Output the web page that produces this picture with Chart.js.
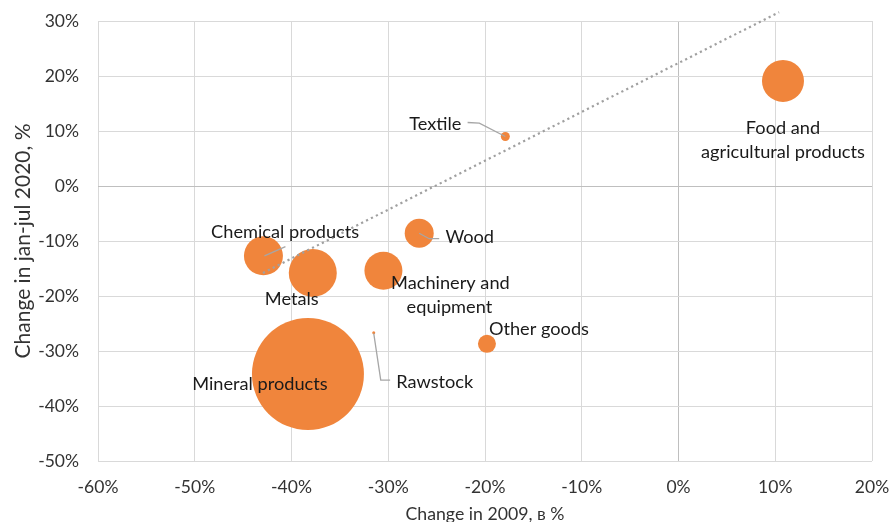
<!DOCTYPE html>
<html>
<head>
<meta charset="utf-8">
<script src="https://cdn.jsdelivr.net/npm/chart.js@4.4.0/dist/chart.umd.min.js"></script>
<style>
  body { margin: 0; background: #fff; }
</style>
</head>
<body>
<canvas id="chart" width="891" height="522"></canvas>
<script>
// product groups and their changes, in %
const categories = ['Food and agricultural products', 'Textile', 'Wood', 'Chemical products', 'Metals',
  'Machinery and equipment', 'Other goods', 'Rawstock', 'Mineral products'];
const change2009 = [10.8, -17.9, -26.8, -42.9, -37.8, -30.5, -19.8, -31.5, -38.3];
const change2020 = [19.1, 9.0, -8.6, -12.7, -15.8, -15.4, -28.7, -26.7, -34.2];
const bubbleSize = [21, 4.5, 14.5, 19.5, 24, 19, 9, 1.5, 56]; // bubble radius, px

// dotted trend line ends
const trendX = [-42.95, 10.4];
const trendY = [-15.8, 31.6];

const xTicks = [-60, -50, -40, -30, -20, -10, 0, 10, 20];
const yTicks = [-50, -40, -30, -20, -10, 0, 10, 20, 30];

// where each label sits relative to its bubble (lines of text, offsets, leader line)
const labelLayout = [
  { lines: ['Food and', 'agricultural products'], dx: 0, dy: 47, gap: 24 },
  { lines: ['Textile'], dx: -70, dy: -12.7, leader: [[0, 0], [-26, -13.4], [-37.7, -14]] },
  { lines: ['Wood'], dx: 50.5, dy: 4, leader: [[0, 0], [10, 5.4], [20, 5.4]] },
  { lines: ['Chemical products'], dx: 21.7, dy: -23.7, leader: [[1, 0], [22, -9.3]] },
  { lines: ['Metals'], dx: -21, dy: 26.3 },
  { lines: ['Machinery and', 'equipment'], dx: 67, dy: 12.3, gap: 23.7, dxs: [0, -1] },
  { lines: ['Other goods'], dx: 52, dy: -15 },
  { lines: ['Rawstock'], dx: 61, dy: 49, leader: [[0, 0.6], [7, 47.3], [16.4, 47.3]] },
  { lines: ['Mineral products'], dx: -48, dy: 10 }
];

const bubbles = categories.map((c, i) => ({ x: change2009[i], y: change2020[i], r: bubbleSize[i] }));
const trend = trendX.map((x, i) => ({ x: x, y: trendY[i] }));

const labelFont = '18.2px Lato';
const tickFont = { family: 'Lato', size: 17.5 };

const bubbleLabels = {
  id: 'bubbleLabels',
  afterDatasetsDraw(chart) {
    const ctx = chart.ctx;
    const meta = chart.getDatasetMeta(1);
    ctx.save();
    meta.data.forEach((pt, i) => {
      const lay = labelLayout[i];
      if (lay.leader) {
        ctx.strokeStyle = '#a6a6a6';
        ctx.lineWidth = 1.3;
        ctx.beginPath();
        lay.leader.forEach((p, k) => {
          const px = pt.x + p[0], py = pt.y + p[1];
          if (k === 0) ctx.moveTo(px, py); else ctx.lineTo(px, py);
        });
        ctx.stroke();
      }
      ctx.font = labelFont;
      ctx.fillStyle = '#1a1a1a';
      ctx.textAlign = 'center';
      ctx.textBaseline = 'middle';
      lay.lines.forEach((t, k) => {
        const shift = lay.dxs ? lay.dxs[k] : 0;
        ctx.fillText(t, pt.x + lay.dx + shift, pt.y + lay.dy + k * (lay.gap || 0));
      });
    });
    ctx.restore();
  }
};

const gridColor = ctx => (ctx.tick && ctx.tick.value === 0) ? '#bfbfbf' : '#d9d9d9';

// keep tick label overhang from shrinking the plot area
function noOverhang(s) {
  s.paddingTop = 0;
  s.paddingBottom = 0;
  s.paddingLeft = 0;
  s.paddingRight = 0;
}

new Chart(document.getElementById('chart'), {
  type: 'bubble',
  data: {
    datasets: [
      {
        type: 'line',
        data: trend,
        borderColor: '#a0a0a0',
        borderWidth: 2.2,
        borderDash: [2.2, 3.3],
        pointRadius: 0,
        fill: false,
        clip: false,
        order: 0
      },
      {
        data: bubbles,
        backgroundColor: '#F0853C',
        borderWidth: 0,
        hoverBorderWidth: 0,
        order: 1
      }
    ]
  },
  options: {
    responsive: false,
    animation: false,
    layout: { autoPadding: false, padding: { left: 0, right: 19, top: 21, bottom: 0 } },
    plugins: { legend: { display: false }, tooltip: { enabled: false } },
    scales: {
      x: {
        type: 'linear',
        min: xTicks[0],
        max: xTicks[xTicks.length - 1],
        afterBuildTicks: s => { s.ticks = xTicks.map(v => ({ value: v })); },
        afterFit: s => { s.height = 61; noOverhang(s); },
        ticks: { callback: v => v + '%', font: tickFont, color: '#333', padding: 16 },
        grid: { color: gridColor, drawTicks: false },
        border: { display: false },
        title: {
          display: true,
          text: 'Change in 2009, в %',
          font: { family: 'Lato', size: 17.7 },
          color: '#333',
          padding: { top: 0, bottom: -3 }
        }
      },
      y: {
        type: 'linear',
        min: yTicks[0],
        max: yTicks[yTicks.length - 1],
        afterBuildTicks: s => { s.ticks = yTicks.map(v => ({ value: v })); },
        afterFit: s => { s.width = 98; noOverhang(s); },
        ticks: { callback: v => v + '%', font: tickFont, color: '#333', padding: 19 },
        grid: { color: gridColor, drawTicks: false },
        border: { display: false },
        title: {
          display: true,
          text: 'Change in jan-jul 2020, %',
          font: { family: 'Lato', size: 21 },
          color: '#333',
          padding: { top: 11, bottom: 0 }
        }
      }
    }
  },
  plugins: [bubbleLabels]
});
</script>
</body>
</html>
